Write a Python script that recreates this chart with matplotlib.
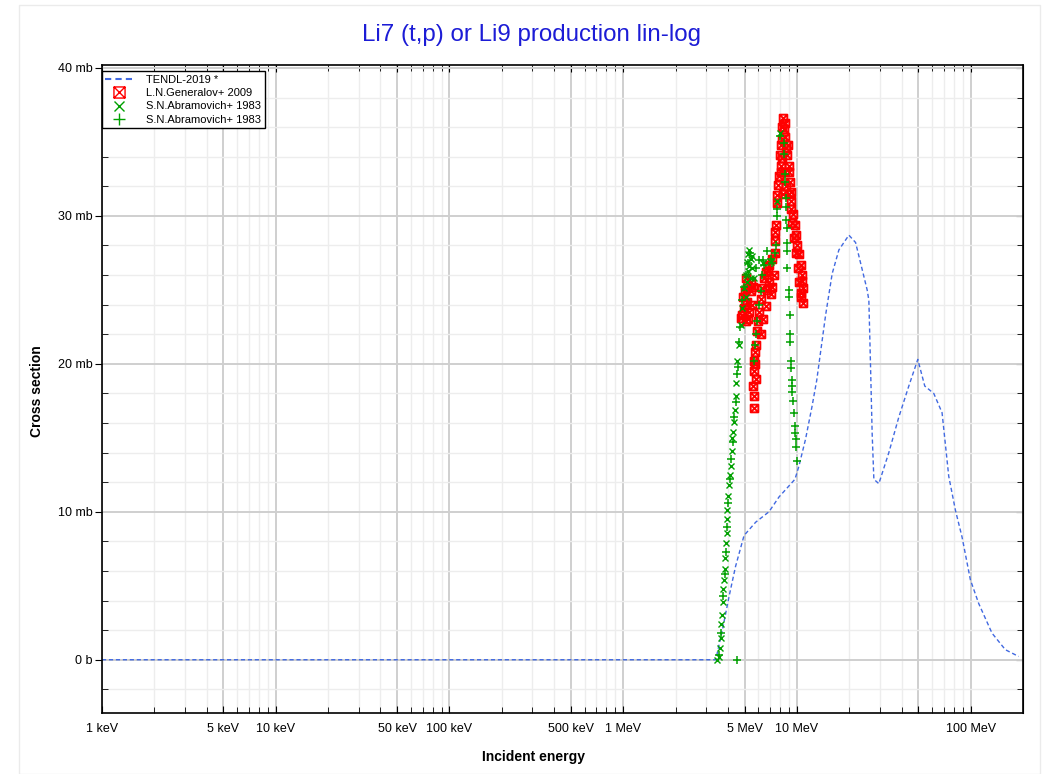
import matplotlib
matplotlib.use('Agg')
import matplotlib.pyplot as plt
from matplotlib.path import Path
from matplotlib.lines import Line2D
from matplotlib.ticker import FixedLocator, FixedFormatter, NullFormatter

plt.rcParams['font.family'] = ['Liberation Sans', 'DejaVu Sans']

# TENDL-2019 evaluation (energy in MeV, cross section in mb)
tendl_e = [1e-3, 3.41, 3.72, 4.07, 4.43, 4.96, 5.79, 6.90, 7.88, 9.74, 10.27, 11.2,
           12.2, 13.0, 14.62, 15.95, 17.43, 19.9, 21.75, 25.35, 25.93, 26.52, 27.09,
           27.71, 29.6, 33.79, 38.57, 44.03, 49.6, 54.4, 61.3, 68.41, 74.75, 81.7,
           89.13, 99.6, 111.2, 132.6, 158.2, 188.8]
tendl_xs = [0.0, 0.0, 2.0, 4.3, 6.3, 8.4, 9.3, 10.0, 11.0, 12.2, 13.1, 14.9,
            17.1, 18.9, 23.3, 26.1, 27.7, 28.7, 28.2, 25.0, 24.3, 19.8, 15.3,
            12.2, 11.9, 14.0, 16.4, 18.5, 20.3, 18.5, 18.0, 16.7, 12.4, 10.1,
            8.3, 5.4, 3.8, 1.8, 0.68, 0.22]

# L.N.Generalov+ 2009
gen_e = [4.85, 5.07, 5.18, 5.42, 5.18, 4.96, 4.89, 5.30, 5.44, 5.09, 5.23, 4.77, 4.99,
         5.51, 5.59,
         5.66, 5.66, 5.71, 5.79, 5.92, 5.97, 6.05, 6.17, 6.31, 6.46, 6.60, 6.90, 7.21,
         7.38, 6.60, 7.05, 7.21, 5.66, 5.66, 5.81, 6.21, 6.72, 6.90, 6.38, 6.77, 5.62,
         5.74,
         8.31, 8.42, 8.23, 8.06, 7.99, 8.12, 8.06, 7.88, 7.78, 7.71, 7.65, 7.54, 7.47,
         7.47, 7.52, 8.88, 8.80, 9.00, 9.00, 9.12, 9.27, 9.27, 9.52, 9.70, 9.82, 10.04,
         10.27, 10.49, 10.63, 10.71, 10.85, 10.49, 10.83, 8.53, 8.65, 8.20, 8.48, 8.70,
         8.31, 8.94, 9.18, 9.36, 9.61, 9.87, 10.13, 10.34, 10.54, 8.20, 8.48]
gen_xs = [23.3, 22.9, 24.2, 24.9, 25.1, 23.8, 24.5, 23.5, 25.5, 25.8, 23.0, 23.1, 24.9,
          24.0, 25.2,
          19.5, 20.2, 20.8, 21.3, 22.2, 22.9, 23.5, 24.4, 25.1, 25.8, 26.2, 26.7, 27.1,
          26.0, 23.9, 24.7, 25.2, 17.8, 17.0, 19.0, 22.0, 25.0, 25.5, 23.0, 26.3, 18.5,
          20.0,
          36.6, 35.9, 35.2, 34.8, 34.1, 33.4, 33.0, 32.7, 32.1, 31.4, 30.9, 29.4, 28.9,
          28.3, 27.5, 34.8, 34.1, 33.4, 33.0, 32.3, 31.6, 31.0, 30.1, 29.4, 28.7, 28.0,
          27.4, 26.7, 26.0, 25.6, 25.1, 24.5, 24.1, 35.3, 34.6, 33.9, 33.0, 32.0,
          31.5, 31.5, 30.5, 29.5, 28.5, 27.5, 26.5, 25.5, 24.8, 36.0, 36.3]

# S.N.Abramovich+ 1983 (x markers)
abr1_e = [3.46, 3.54, 3.61, 3.64, 3.67, 3.71, 3.74, 3.77, 3.81, 3.84, 3.87, 3.91, 3.94,
          3.98, 3.98, 4.03, 4.07, 4.12, 4.16, 4.21, 4.25, 4.29, 4.34, 4.38, 4.48, 4.46,
          4.53, 4.64, 4.74, 4.85, 4.96, 5.07, 5.18, 5.30, 5.42, 5.53, 5.66, 5.42, 5.23,
          5.33, 5.48, 5.26, 5.16, 5.09, 6.40, 7.05, 7.99, 7.71]
abr1_xs = [0.0, 0.2, 0.8, 1.5, 2.4, 3.0, 3.9, 4.8, 5.4, 6.1, 6.9, 7.9, 8.6,
           9.5, 10.1, 11.1, 11.8, 12.5, 13.1, 14.1, 15.0, 15.4, 16.1, 16.9, 17.8, 18.7,
           20.2, 21.3, 22.6, 23.8, 25.1, 26.0, 26.9, 27.7, 27.1, 26.5, 25.8, 25.8, 26.3,
           26.6, 27.3, 27.4, 25.5, 24.5, 26.8, 26.9, 35.6, 31.0]

# S.N.Abramovich+ 1983 (+ markers)
abr2_e = [3.56, 3.66, 3.76, 3.83, 3.88, 3.96, 4.01, 4.09, 4.18, 4.26, 4.37, 4.46, 4.49,
          4.55, 4.64, 4.73, 4.83, 4.96, 5.06, 5.26, 5.37, 4.53,
          5.66, 5.71, 5.79, 5.92, 6.05, 6.17, 6.31, 6.46, 6.75, 7.05, 7.47, 6.40, 7.18,
          5.81, 6.05,
          7.99, 8.42, 8.42, 8.53, 8.53, 8.61, 8.61, 7.71, 7.65, 8.61, 8.73, 7.54, 8.80,
          8.80, 8.80, 9.00, 9.00, 9.08, 9.12, 9.12, 9.20, 9.27, 9.31, 9.39, 9.39, 9.52,
          9.61, 9.70, 9.74, 9.82, 9.87, 9.96]
abr2_xs = [0.3, 1.8, 4.3, 5.8, 7.3, 9.0, 10.6, 12.2, 13.6, 14.7, 16.4, 17.4, 19.3,
           19.8, 21.5, 22.5, 24.3, 25.2, 26.0, 26.8, 27.5, 0.0,
           20.2, 21.3, 22.0, 22.9, 24.0, 24.9, 26.0, 26.7, 27.6, 27.1, 27.5, 27.0, 26.8,
           26.5, 27.0,
           35.4, 34.9, 34.2, 32.8, 32.3, 31.2, 30.6, 30.5, 30.0, 29.7, 29.2, 28.0, 28.2,
           27.6, 26.5, 25.0, 24.5, 23.3, 22.0, 21.5, 20.2, 19.7, 18.9, 18.5, 18.1, 17.5,
           16.7, 15.8, 15.3, 14.9, 14.4, 13.4]

# axis ticks
x_major = [1e-3, 5e-3, 1e-2, 5e-2, 0.1, 0.5, 1, 5, 10, 50, 100]
x_labels = ['1 keV', '5 keV', '10 keV', '50 keV', '100 keV', '500 keV', '1 MeV',
            '5 MeV', '10 MeV', '', '100 MeV']
y_major = [0, 10, 20, 30, 40]
y_labels = ['0 b', '10 mb', '20 mb', '30 mb', '40 mb']

blue = '#4169e1'
green = '#00a000'

# square with a cross inside
box_x = Path([(-1, -1), (1, -1), (1, 1), (-1, 1), (-1, -1),
              (-1, -1), (1, 1), (-1, 1), (1, -1)],
             [Path.MOVETO, Path.LINETO, Path.LINETO, Path.LINETO, Path.CLOSEPOLY,
              Path.MOVETO, Path.LINETO, Path.MOVETO, Path.LINETO])

fig = plt.figure(figsize=(10.49, 7.74), dpi=100)
ax = fig.add_axes([102 / 1049, 1 - 713 / 774, 921 / 1049, 648 / 774])

ax.plot(tendl_e, tendl_xs, color=blue, lw=1, ls=(0, (3, 2)))
ax.plot(gen_e, gen_xs, ls='none', marker=box_x, ms=5.5, mfc='none', mec='red', mew=1.4)
ax.plot(abr1_e, abr1_xs, ls='none', marker='x', ms=4, mec=green, mew=1)
ax.plot(abr2_e, abr2_xs, ls='none', marker='+', ms=5.5, mec=green, mew=1.1)

ax.set_xscale('log')
ax.set_xlim(1e-3, 200)
ax.set_ylim(-3.6, 40.2)

minors = [m * 10.0 ** d for d in range(-3, 3) for m in (2, 3, 4, 6, 7, 8, 9)]
ax.xaxis.set_major_locator(FixedLocator(x_major))
ax.xaxis.set_major_formatter(FixedFormatter(x_labels))
ax.xaxis.set_minor_locator(FixedLocator([v for v in minors if v < 200]))
ax.xaxis.set_minor_formatter(NullFormatter())
ax.yaxis.set_major_locator(FixedLocator(y_major))
ax.yaxis.set_major_formatter(FixedFormatter(y_labels))
ax.yaxis.set_minor_locator(FixedLocator(range(-2, 41, 2)))

ax.grid(True, which='major', color='#cfcfcf', lw=1.4)
ax.grid(True, which='minor', color='#ededed', lw=1)
ax.set_axisbelow(True)

ax.tick_params(axis='x', which='both', direction='in', top=True, labelsize=9, pad=7)
ax.tick_params(axis='x', which='major', length=5)
ax.tick_params(axis='x', which='minor', length=4)
ax.tick_params(axis='y', which='major', direction='out', length=5, labelsize=9, pad=1.5)
ax.tick_params(axis='y', which='minor', direction='in', length=4, right=True)
sec = ax.secondary_yaxis('right')
sec.set_yticks(y_major)
sec.tick_params(direction='in', length=5, labelright=False)
for s in ax.spines.values():
    s.set_linewidth(1.2)

handles = [Line2D([], [], color=blue, lw=1.5, ls=(0, (3, 2))),
           Line2D([], [], ls='none', marker=box_x, ms=8, mfc='none', mec='red', mew=1),
           Line2D([], [], ls='none', marker='x', ms=7, mec=green, mew=1),
           Line2D([], [], ls='none', marker='+', ms=9, mec=green, mew=1)]
labels = ['TENDL-2019 *', 'L.N.Generalov+ 2009', 'S.N.Abramovich+ 1983',
          'S.N.Abramovich+ 1983']
leg = ax.legend(handles, labels, loc='upper left', bbox_to_anchor=(0, 0.99),
                borderaxespad=0, fontsize=8, fancybox=False, framealpha=1,
                edgecolor='black', labelspacing=0.3, handlelength=2.4,
                handletextpad=1.3, borderpad=0.3)
leg.get_frame().set_linewidth(1)

fig.text(532 / 1049, 1 - 35 / 774, 'Li7 (t,p) or Li9 production lin-log',
         ha='center', va='center', fontsize=17.4, color='#1c1cd6')
fig.text(534 / 1049, 1 - 757 / 774, 'Incident energy', ha='center', va='center',
         fontsize=10, fontweight='bold')
fig.text(37 / 1049, 1 - 391 / 774, 'Cross section', ha='center', va='center',
         fontsize=10, fontweight='bold', rotation=90)

fig.add_artist(plt.Rectangle((19 / 1049, 0), 1021 / 1049, 1 - 5 / 774,
                             transform=fig.transFigure, fill=False,
                             ec='#ebebeb', lw=1))

fig.savefig('out.png', dpi=100)
